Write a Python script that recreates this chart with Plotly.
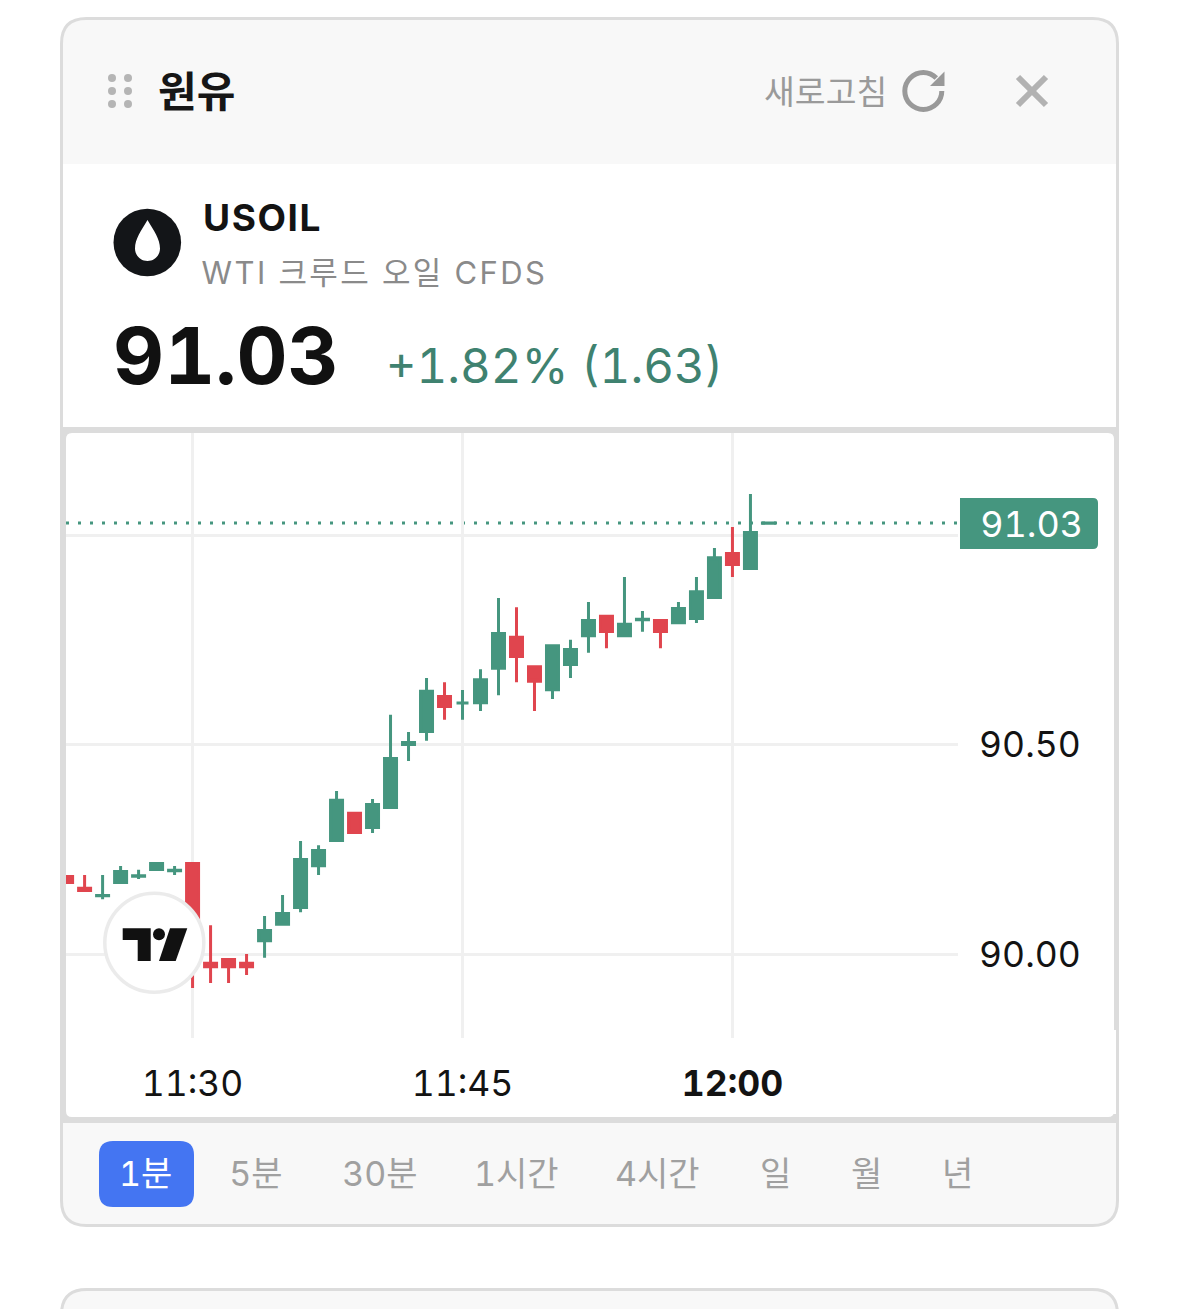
import re
import plotly.graph_objects as go

# ---------- data ----------
times = [f"2024-04-05 11:{m}" for m in
         "23 24 25 26 27 28 29 30 31 32 33 34 35 36 37 38 39 40 41 42 43 44 45 46 47 48 49 50 51 52 53 54 55 56 57 58 59".split()] + \
        ["2024-04-05 12:00", "2024-04-05 12:01", "2024-04-05 12:02"]
opens = [90.186, 90.158, 90.140, 90.172, 90.187, 90.203, 90.200, 90.217, 89.979, 89.988,
         89.979, 90.033, 90.072, 90.112, 90.212, 90.272, 90.337, 90.303, 90.351, 90.501,
         90.532, 90.616, 90.600, 90.601, 90.683, 90.757, 90.687, 90.632, 90.692, 90.761,
         90.807, 90.761, 90.799, 90.797, 90.792, 90.802, 90.852, 90.957, 90.921, 91.029]
highs = [90.186, 90.190, 90.190, 90.211, 90.202, 90.217, 90.211, 90.217, 90.070, 89.988,
         90.001, 90.092, 90.142, 90.271, 90.261, 90.390, 90.337, 90.371, 90.572, 90.531,
         90.660, 90.650, 90.631, 90.681, 90.851, 90.829, 90.687, 90.737, 90.751, 90.841,
         90.807, 90.901, 90.820, 90.797, 90.841, 90.901, 90.970, 91.020, 91.099, 91.030]
lows = [90.172, 90.153, 90.132, 90.172, 90.180, 90.203, 90.190, 89.920, 89.932, 89.932,
        89.951, 89.992, 90.072, 90.101, 90.190, 90.272, 90.291, 90.290, 90.351, 90.462,
        90.510, 90.560, 90.560, 90.581, 90.619, 90.650, 90.581, 90.610, 90.660, 90.720,
        90.731, 90.761, 90.770, 90.731, 90.792, 90.791, 90.852, 90.901, 90.921, 91.029]
closes = [90.172, 90.153, 90.141, 90.198, 90.188, 90.217, 90.201, 89.986, 89.971, 89.971,
          89.971, 90.057, 90.098, 90.227, 90.248, 90.368, 90.291, 90.358, 90.468, 90.506,
          90.628, 90.592, 90.600, 90.656, 90.766, 90.711, 90.652, 90.737, 90.728, 90.797,
          90.771, 90.788, 90.800, 90.771, 90.826, 90.866, 90.947, 90.931, 91.007, 91.030]
x_tick_vals = ["2024-04-05 11:30", "2024-04-05 11:45", "2024-04-05 12:00"]
x_tick_text = ["11:30", "11:45", "<b>12:00</b>"]
y_tick_vals = [90.0, 90.5, 91.0]
y_tick_text = ["90.00", "90.50", "91.00"]
last_price = 91.03
tabs = ["1분", "5분", "30분", "1시간", "4시간", "일", "월", "년"]

# ---------- style ----------
W, H = 1179, 1309
GREEN, RED = "#45967F", "#E0454E"
BORDER, PANEL, GRID = "#DCDCDC", "#F8F8F8", "#F0F0F0"
LATIN = "Inter, 'Noto Sans CJK KR', sans-serif"
KR = "'Noto Sans CJK KR', Inter, sans-serif"


def fx(x):
    return x / W


def fy(y):
    return 1 - y / H


def path(s):
    """Pixel-space SVG path to paper fractions (x,y pairs only)."""
    out, i = [], 0
    for tok in re.findall(r"[A-Za-z]|-?[\d.]+", s):
        if tok.isalpha():
            out.append(tok)
            i = 0
        else:
            out.append(f"{fx(float(tok)) if i % 2 == 0 else fy(float(tok)):.6f}")
            i += 1
    return " ".join(out)


def rr(x0, y0, x1, y1, tl=0, tr=0, br=0, bl=0):
    return (f"M {x0+tl} {y0} L {x1-tr} {y0} Q {x1} {y0} {x1} {y0+tr} L {x1} {y1-br} "
            f"Q {x1} {y1} {x1-br} {y1} L {x0+bl} {y1} Q {x0} {y1} {x0} {y1-bl} "
            f"L {x0} {y0+tl} Q {x0} {y0} {x0+tl} {y0} Z")


def pshape(d, fill=None, line=None, lw=0, layer="below"):
    return dict(type="path", xref="paper", yref="paper", path=path(d), layer=layer,
                fillcolor=fill or "rgba(0,0,0,0)",
                line=dict(color=line or "rgba(0,0,0,0)", width=lw))


def circle(cx, cy, r, fill=None, line=None, lw=0, layer="below"):
    return dict(type="circle", xref="paper", yref="paper", layer=layer,
                x0=fx(cx - r), x1=fx(cx + r), y0=fy(cy + r), y1=fy(cy - r),
                fillcolor=fill or "rgba(0,0,0,0)",
                line=dict(color=line or "rgba(0,0,0,0)", width=lw))


shapes = [
    # next card peeking from the bottom, this card
    pshape(rr(61.5, 1289.5, 1117.5, 1340, 25, 25, 0, 0), PANEL, BORDER, 3),
    pshape(rr(61.5, 18.5, 1117.5, 1225.5, 25, 25, 25, 25), "#FFFFFF"),
    pshape(rr(61.5, 18.5, 1117.5, 164, 25, 25, 0, 0), PANEL),
    pshape(rr(61.5, 1123, 1117.5, 1225.5, 0, 0, 25, 25), PANEL),
    pshape(rr(61.5, 18.5, 1117.5, 1225.5, 25, 25, 25, 25), None, BORDER, 3),
    # chart frame
    pshape(rr(60, 427, 1119, 1123), BORDER),
    pshape(rr(66, 433, 1114, 1117, 6, 6, 6, 6), "#FFFFFF"),
    pshape(rr(1110, 1030, 1116, 1114), "#FFFFFF"),
    # last price line
    dict(type="line", xref="paper", yref="y", layer="below",
         x0=fx(66), x1=fx(960), y0=last_price, y1=last_price,
         line=dict(color=GREEN, width=3, dash="3px,9px")),
    # refresh icon
    pshape("M 936.3 78 C 932.9 74.7 928.3 72.5 923.3 72.5 C 913.1 72.5 904.8 80.8 904.8 91 "
           "C 904.8 101.2 913.1 109.5 923.3 109.5 C 933.5 109.5 941.8 101.2 941.8 91",
           None, "#999999", 5),
    pshape("M 944.5 71.5 L 944.5 86 L 930 86 Z", "#999999"),
    # close icon
    dict(type="line", xref="paper", yref="paper", layer="below",
         x0=fx(1018), x1=fx(1046), y0=fy(77), y1=fy(105), line=dict(color="#B2B2B2", width=6)),
    dict(type="line", xref="paper", yref="paper", layer="below",
         x0=fx(1018), x1=fx(1046), y0=fy(105), y1=fy(77), line=dict(color="#B2B2B2", width=6)),
    # symbol badge
    circle(147.3, 242.5, 33.8, "#131518"),
    pshape("M 147.5 220 C 141 231 135 239 135 248.5 C 135 255.5 140.5 261 147.5 261 "
           "C 154.5 261 160 255.5 160 248.5 C 160 239 154 231 147.5 220 Z", "#FFFFFF"),
    # active tab
    pshape(rr(99, 1141, 194, 1207, 14, 14, 14, 14), "#4475F2"),
    # last price tag, above the axis labels
    pshape(rr(960, 498, 1098, 549, 0, 5, 5, 0), GREEN, layer="above"),
    # TradingView badge, above the candles
    circle(154.3, 942.7, 49.5, "#FFFFFF", "#EBEBEB", 3.5, layer="above"),
    pshape("M 122.7 928.3 L 150.7 928.3 L 150.7 961 L 137.7 961 L 137.7 940 L 122.7 940 Z",
           "#111111", layer="above"),
    circle(159, 934.3, 6, "#111111", layer="above"),
    pshape("M 170 928.3 L 187.3 928.3 L 175.7 961 L 159 961 Z", "#111111", layer="above"),
]
for dx in (112, 128):
    for dy in (78, 91, 104):
        shapes.append(circle(dx, dy, 4, "#B5B5B5"))


def label(text, x, y, size, color, family=LATIN, anchor="left"):
    return dict(text=text, xref="paper", yref="paper", x=fx(x), y=fy(y), xanchor=anchor,
                yanchor="middle", showarrow=False, borderpad=0,
                font=dict(size=size, color=color, family=family))


annotations = [
    label("<b>원유</b>", 157, 89, 42, "#161616", KR),
    label("새로고침", 763, 90, 33.5, "#9A9A9A", KR),
    label("<b>USOIL</b>", 206, 218, 37, "#131313"),
    label("WTI 크루드 오일 CFDS", 218, 272, 31, "#8A8A8A"),
    label("<b>91.03</b>", 118, 355, 79, "#111111"),
    label("+1.82% (1.63)", 400, 366, 47.5, "#3F8270"),
    label("91.03", 1031.5, 524, 36, "#FFFFFF", anchor="center"),
]
tab_centers = [145, 256, 380, 515.5, 657.5, 775, 866, 957]
for i, (t, cx) in enumerate(zip(tabs, tab_centers)):
    annotations.append(label(t, cx, 1173, 34, "#FFFFFF" if i == 0 else "#A0A0A0", LATIN, "center"))

fig = go.Figure(go.Candlestick(
    x=times, open=opens, high=highs, low=lows, close=closes,
    whiskerwidth=0, hoverinfo="skip",
    increasing=dict(line=dict(color=GREEN, width=3), fillcolor=GREEN),
    decreasing=dict(line=dict(color=RED, width=3), fillcolor=RED),
))
fig.update_layout(
    width=W, height=H, autosize=False, margin=dict(l=0, r=0, t=0, b=0),
    paper_bgcolor="#FFFFFF", plot_bgcolor="rgba(0,0,0,0)", showlegend=False,
    boxgap=1 / 3, boxgroupgap=0,
    shapes=shapes, annotations=annotations,
    font=dict(family=LATIN, color="#131313", size=35.5),
    xaxis=dict(
        domain=[fx(66), fx(958)], type="date",
        range=["2024-04-05 11:22:58", "2024-04-05 12:12:32"],
        rangeslider=dict(visible=False), tickmode="array",
        tickvals=x_tick_vals, ticktext=x_tick_text, tickangle=0,
        showgrid=True, gridcolor=GRID, gridwidth=3, zeroline=False, showline=False,
        ticks="outside", ticklen=14, tickcolor="rgba(0,0,0,0)",
    ),
    yaxis=dict(
        domain=[fy(1038), fy(433)], side="right",
        range=[89.8007, 91.2446], tickmode="array",
        tickvals=y_tick_vals, ticktext=y_tick_text,
        showgrid=True, gridcolor=GRID, gridwidth=3, zeroline=False, showline=False,
        ticks="outside", ticklen=13, tickcolor="rgba(0,0,0,0)",
    ),
)
css = ("text{font-feature-settings:'tnum' 1;}"
       ".annotation[data-index='2'] text{letter-spacing:1.6px;}"
       ".annotation[data-index='3'] text{letter-spacing:2.4px;}")
post = ("document.body.style.margin='0';document.documentElement.style.overflow='hidden';"
        "var s=document.createElement('style');s.textContent=\"" + css + "\";document.head.appendChild(s);"
        "Plotly.redraw('{plot_id}');")
fig.write_html("out.html", config=dict(displayModeBar=False), post_script=post)
